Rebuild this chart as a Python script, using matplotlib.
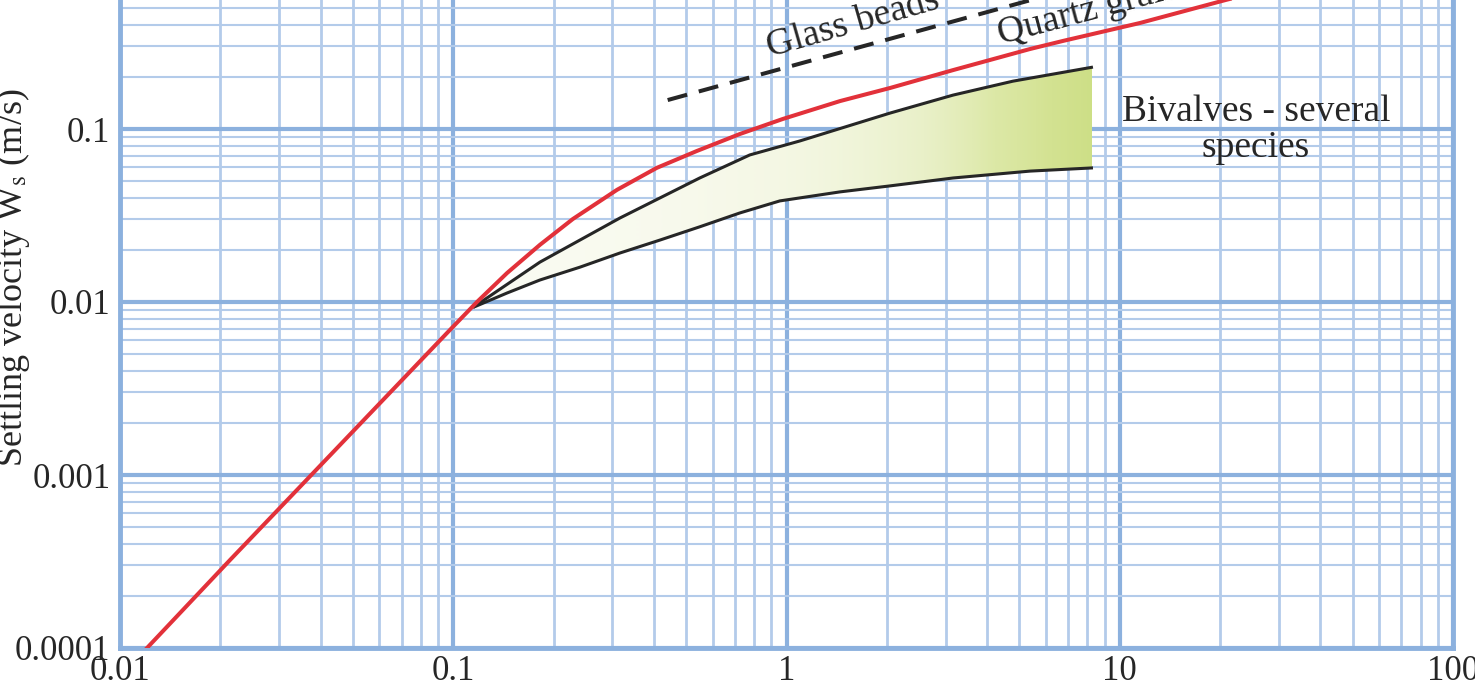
import numpy as np
import matplotlib
matplotlib.use("Agg")
import matplotlib.pyplot as plt
from matplotlib.colors import LinearSegmentedColormap
from matplotlib.ticker import LogLocator, NullFormatter

# --- data ------------------------------------------------------------------
# quartz grains (red curve)
quartz_x = [0.01205, 0.0214, 0.0977, 0.1178, 0.145, 0.182, 0.2286, 0.31, 0.408,
            0.538, 0.724, 0.975, 1.447, 2.045, 3.16, 5.38, 6.76, 11.5, 20.8, 34.8]
quartz_y = [1.0e-4, 3.23e-4, 6.89e-3, 0.0100, 0.0147, 0.0214, 0.0302, 0.0445, 0.0596,
            0.0746, 0.0935, 0.1143, 0.145, 0.1726, 0.219, 0.29, 0.323, 0.41, 0.557, 0.71]

# bivalves envelope (two black curves)
upper_x = [0.1146, 0.182, 0.3165, 0.549, 0.776, 1.097, 2.045, 3.16, 4.78, 8.31]
upper_y = [0.0093, 0.0170, 0.0306, 0.0521, 0.0708, 0.0853, 0.1236, 0.157, 0.189, 0.228]
lower_x = [0.1146, 0.145, 0.182, 0.240, 0.3165, 0.417, 0.549, 0.724, 0.955,
           1.447, 2.045, 3.16, 5.38, 8.31]
lower_y = [0.0093, 0.01127, 0.0134, 0.0159, 0.0192, 0.0228, 0.0272, 0.0327, 0.0384,
           0.0433, 0.0469, 0.0521, 0.0571, 0.0596]

# glass beads (dashed)
glass_x = [0.44, 7.0]
glass_y = [0.147, 0.638]

x_ticks = [0.01, 0.1, 1, 10, 100]
x_tick_labels = ["0.01", "0.1", "1", "10", "100"]
y_ticks = [0.0001, 0.001, 0.01, 0.1]
y_tick_labels = ["0.0001", "0.001", "0.01", "0.1"]

# --- style ------------------------------------------------------------------
plt.rcParams["font.family"] = ["Liberation Serif", "DejaVu Serif"]
plt.rcParams["mathtext.fontset"] = "stix"

major_col = "#8cb1de"
minor_col = "#b3cbea"
red = "#e2313a"
dark = "#262626"

fig = plt.figure(figsize=(14.75, 6.8), dpi=100)
ax = fig.add_axes([120 / 1475, 32 / 680, 1333 / 1475, 648 / 680])
ax.set_xscale("log")
ax.set_yscale("log")

# grid like log paper
ax.xaxis.set_minor_locator(LogLocator(base=10, subs=np.arange(2, 10)))
ax.yaxis.set_minor_locator(LogLocator(base=10, subs=np.arange(2, 10)))
ax.xaxis.set_minor_formatter(NullFormatter())
ax.yaxis.set_minor_formatter(NullFormatter())
ax.set_axisbelow(True)
ax.grid(which="major", color=major_col, lw=3.0)
ax.grid(which="minor", axis="x", color=minor_col, lw=2.0)
ax.grid(which="minor", axis="y", color=minor_col, lw=1.5)

# bivalve envelope with a soft gradient
poly = ax.fill(upper_x + lower_x[::-1], upper_y + lower_y[::-1],
               facecolor="none", edgecolor="none")[0]
cmap = LinearSegmentedColormap.from_list(
    "biv", [(0.0, "#fafbf2"), (0.3, "#e9f0c8"), (0.5, "#dce8a6"),
            (0.75, "#d3e291"), (1.0, "#cddf86")])
grad = np.linspace(0, 1, 256).reshape(1, -1)
im = ax.imshow(grad, extent=[upper_x[0], upper_x[-1], lower_y[0], upper_y[-1]],
               aspect="auto", cmap=cmap, origin="lower", zorder=2, interpolation="bilinear")
im.set_clip_path(poly)

ax.plot(upper_x, upper_y, color=dark, lw=2.2, zorder=3, solid_capstyle="butt")
ax.plot(lower_x, lower_y, color=dark, lw=2.2, zorder=3, solid_capstyle="butt")
ax.plot(quartz_x, quartz_y, color=red, lw=2.9, zorder=4)
ax.plot(glass_x, glass_y, color=dark, lw=2.9, ls=(0, (5, 3)), zorder=4)

ax.set_xlim(0.01, 100)
ax.set_ylim(0.0001, 10 ** (-4 + 648 / 173))

# annotations
ax.text(0.895, 0.261, "Glass beads", fontsize=27, color=dark, rotation=16,
        rotation_mode="anchor", ha="left", va="baseline", clip_on=False)
ax.text(4.39, 0.31, "Quartz grains", fontsize=27, color=dark, rotation=15,
        rotation_mode="anchor", ha="left", va="baseline", clip_on=False)
ax.text(25.6, 0.0986, "Bivalves - several\nspecies", fontsize=27, color=dark,
        ha="center", va="center", linespacing=1.05)

# ticks and labels
ax.set_xticks(x_ticks, x_tick_labels)
ax.set_yticks(y_ticks, y_tick_labels)
ax.tick_params(which="both", length=0, labelsize=25, colors=dark)
ax.tick_params(axis="x", pad=5)
ax.tick_params(axis="y", pad=7)
ax.set_ylabel("Settling velocity W$_{\\rm s}$ (m/s)", fontsize=26, color=dark)
ax.yaxis.set_label_coords(-0.066, 0.571)

for side in ["left", "bottom", "right"]:
    ax.spines[side].set_color(major_col)
    ax.spines[side].set_linewidth(3.5)
ax.spines["top"].set_visible(False)

fig.savefig("out.png", dpi=100)
